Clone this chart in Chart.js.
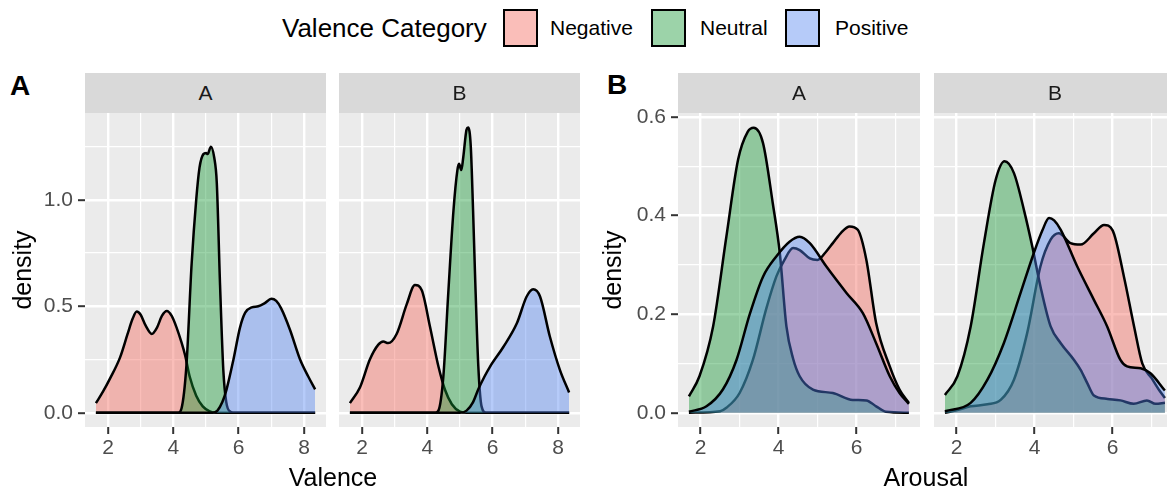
<!DOCTYPE html>
<html lang="en">
<head>
<meta charset="UTF-8">
<title>Valence and arousal densities</title>
<script src="https://cdn.jsdelivr.net/npm/chart.js@4.4.1/dist/chart.umd.min.js"></script>
<style>
  body { margin: 0; background: #fff; overflow: hidden; }
  #fig { position: relative; width: 1167px; height: 488px; overflow: hidden;
         font-family: 'Liberation Sans', Arial, sans-serif; color: #000; }
  #fig canvas { position: absolute; top: 73px; }
  .strip { position: absolute; top: 73px; height: 40px; line-height: 40px; background: #d9d9d9;
           text-align: center; font-size: 21px; color: #1a1a1a; z-index: 2; }
  .tag { position: absolute; font-weight: bold; font-size: 28px; line-height: 28px; }
  .xtitle { position: absolute; top: 465px; font-size: 25px; line-height: 25px; transform: translateX(-50%); white-space: nowrap; }
  .key { position: absolute; top: 9px; width: 35px; height: 38px; box-sizing: border-box; border: 2px solid #000; }
  .ltext { position: absolute; top: 14px; line-height: 28px; font-size: 21px; white-space: nowrap; }
</style>
</head>
<body>
<div id="fig">
  <div class="ltext" style="left:282px;font-size:26px;">Valence Category</div>
  <div class="key" id="key0" style="left:503px;"></div>
  <div class="ltext" style="left:550px;">Negative</div>
  <div class="key" id="key1" style="left:651px;"></div>
  <div class="ltext" style="left:700px;">Neutral</div>
  <div class="key" id="key2" style="left:785px;"></div>
  <div class="ltext" style="left:835px;">Positive</div>

  <div class="tag" style="left:10px;top:72px;">A</div>
  <div class="tag" style="left:607px;top:71px;">B</div>

  <div class="strip" style="left:85px;width:241px;">A</div>
  <div class="strip" style="left:339px;width:241px;">B</div>
  <div class="strip" style="left:678px;width:242px;">A</div>
  <div class="strip" style="left:934px;width:242px;">B</div>

  <canvas id="valA" width="330" height="415" style="left:0px"></canvas>
  <canvas id="valB" width="241" height="415" style="left:339px"></canvas>
  <canvas id="aroA" width="335" height="415" style="left:590px"></canvas>
  <canvas id="aroB" width="242" height="415" style="left:934px"></canvas>

  <div class="xtitle" style="left:333px;">Valence</div>
  <div class="xtitle" style="left:926px;">Arousal</div>
</div>
<script>
// categories and colours
const categories = ['Negative', 'Neutral', 'Positive'];
const fills = ['rgba(245,110,100,0.45)', 'rgba(20,150,50,0.42)', 'rgba(80,130,240,0.42)'];

// axis ticks
const valenceMajor = [2, 4, 6, 8];
const valenceMinor = [3, 5, 7];
const arousalMajor = [2, 4, 6];
const arousalMinor = [3, 5, 7];
const densValMajor = [0, 0.5, 1.0];
const densValMinor = [0.25, 0.75, 1.25];
const densAroMajor = [0, 0.2, 0.4, 0.6];
const densAroMinor = [0.1, 0.3, 0.5];

// Valence, facet A  [x, density]
const valA_neg = [[1.63,0.045],[1.85,0.1],[2.06,0.16],[2.37,0.26],[2.6,0.37],[2.75,0.44],[2.88,0.475],[3.0,0.46],[3.15,0.41],[3.34,0.37],[3.5,0.4],[3.65,0.455],[3.8,0.478],[3.95,0.455],[4.1,0.4],[4.25,0.33],[4.36,0.27],[4.5,0.17],[4.7,0.08],[4.9,0.03],[5.1,0.008],[5.3,0],[8.34,0]];
const valA_neu = [[1.63,0],[4.15,0],[4.25,0.02],[4.4,0.22],[4.56,0.7],[4.7,1.0],[4.8,1.15],[4.92,1.215],[5.0,1.22],[5.05,1.215],[5.15,1.25],[5.25,1.2],[5.33,1.08],[5.43,0.6],[5.53,0.2],[5.62,0.05],[5.75,0.005],[5.9,0],[8.34,0]];
const valA_pos = [[1.63,0],[5.2,0],[5.35,0.01],[5.5,0.05],[5.63,0.11],[5.84,0.25],[6.04,0.4],[6.2,0.47],[6.4,0.495],[6.6,0.5],[6.8,0.515],[7.0,0.535],[7.15,0.525],[7.3,0.49],[7.57,0.39],[7.88,0.25],[8.13,0.17],[8.34,0.11]];

// Valence, facet B
const valB_neg = [[1.63,0.045],[1.94,0.12],[2.24,0.25],[2.5,0.32],[2.65,0.335],[2.8,0.327],[3.06,0.37],[3.37,0.51],[3.62,0.6],[3.83,0.575],[4.08,0.405],[4.34,0.217],[4.54,0.108],[4.75,0.04],[5.0,0.005],[5.2,0],[8.34,0]];
const valB_neu = [[1.63,0],[4.25,0],[4.34,0.01],[4.49,0.17],[4.64,0.56],[4.8,0.95],[4.92,1.14],[4.97,1.17],[5.04,1.14],[5.1,1.2],[5.2,1.33],[5.25,1.34],[5.33,1.25],[5.4,0.95],[5.46,0.65],[5.56,0.22],[5.66,0.03],[5.8,0],[8.34,0]];
const valB_pos = [[1.63,0],[5.0,0],[5.2,0.01],[5.4,0.05],[5.56,0.11],[5.75,0.17],[5.92,0.217],[6.33,0.31],[6.74,0.42],[7.04,0.546],[7.24,0.58],[7.45,0.546],[7.75,0.358],[8.06,0.2],[8.34,0.095]];

// Arousal, facet A
const aroA_neg = [[1.7,0],[2.5,0.003],[2.66,0.01],[3.0,0.04],[3.34,0.107],[3.68,0.21],[3.94,0.276],[4.15,0.31],[4.37,0.334],[4.54,0.33],[4.8,0.313],[5.0,0.31],[5.2,0.325],[5.39,0.344],[5.6,0.365],[5.82,0.378],[6.03,0.371],[6.25,0.31],[6.5,0.182],[6.85,0.094],[7.1,0.047],[7.34,0.02]];
const aroA_neu = [[1.7,0.033],[1.97,0.074],[2.32,0.175],[2.66,0.357],[2.96,0.513],[3.21,0.57],[3.36,0.578],[3.6,0.547],[3.85,0.425],[4.03,0.324],[4.2,0.175],[4.37,0.11],[4.54,0.074],[4.88,0.047],[5.39,0.04],[5.9,0.026],[6.25,0.025],[6.5,0.013],[6.75,0.002],[7.34,0]];
const aroA_pos = [[1.7,0.002],[2.15,0.013],[2.57,0.047],[2.92,0.107],[3.26,0.2],[3.6,0.276],[3.94,0.317],[4.28,0.347],[4.54,0.357],[4.8,0.344],[5.22,0.297],[5.74,0.243],[6.16,0.202],[6.5,0.141],[6.85,0.074],[7.1,0.04],[7.34,0.018]];

// Arousal, facet B
const aroB_neg = [[1.7,0],[2.0,0.005],[2.36,0.013],[2.79,0.017],[3.13,0.026],[3.47,0.067],[3.81,0.162],[4.15,0.297],[4.41,0.351],[4.62,0.364],[4.92,0.344],[5.18,0.341],[5.52,0.364],[5.78,0.381],[6.0,0.37],[6.29,0.276],[6.55,0.175],[6.76,0.1],[7.0,0.07],[7.2,0.045],[7.34,0.03]];
const aroB_neu = [[1.7,0.036],[2.02,0.074],[2.36,0.175],[2.7,0.344],[3.0,0.472],[3.23,0.51],[3.47,0.486],[3.73,0.41],[3.94,0.337],[4.15,0.256],[4.41,0.175],[4.67,0.141],[5.01,0.107],[5.18,0.087],[5.35,0.06],[5.52,0.035],[5.87,0.028],[6.2,0.025],[6.54,0.018],[6.88,0.025],[7.1,0.018],[7.34,0.02]];
const aroB_pos = [[1.7,0.003],[2.36,0.02],[2.79,0.067],[3.21,0.141],[3.64,0.243],[3.98,0.324],[4.2,0.37],[4.37,0.395],[4.5,0.39],[4.67,0.371],[5.09,0.297],[5.52,0.229],[5.86,0.175],[6.2,0.107],[6.37,0.094],[6.72,0.09],[6.97,0.08],[7.34,0.045]];

const FONT = "'Liberation Sans', Arial, sans-serif";

fills.forEach((c, i) => { document.getElementById('key' + i).style.background = c; });

function isIn(v, arr) {
  return arr.some(a => Math.abs(a - v) < 1e-9);
}

// grey panel behind the plot
const panelBg = {
  id: 'panelBg',
  beforeDraw(chart) {
    const a = chart.chartArea;
    const ctx = chart.ctx;
    ctx.save();
    ctx.fillStyle = '#ebebeb';
    ctx.fillRect(a.left, a.top, a.right - a.left, a.bottom - a.top);
    ctx.restore();
  }
};

function axis(major, minor, min, max, decimals, showLabels, size, horizontal) {
  return {
    type: 'linear',
    min: min,
    max: max,
    border: { display: false },
    afterBuildTicks: s => {
      s.ticks = major.concat(minor).sort((a, b) => a - b).map(v => ({ value: v }));
    },
    afterFit: s => {
      if (horizontal) s.height = size; else s.width = size;
    },
    grid: {
      color: '#ffffff',
      lineWidth: c => (c.tick && isIn(c.tick.value, major)) ? 2.4 : 1.2,
      drawTicks: showLabels,
      tickLength: 7,
      tickWidth: 2,
      tickColor: c => (c.tick && isIn(c.tick.value, major)) ? '#333333' : 'rgba(0,0,0,0)'
    },
    ticks: {
      display: showLabels,
      autoSkip: false,
      maxRotation: 0,
      padding: horizontal ? 2 : 5,
      color: '#4d4d4d',
      font: { family: FONT, size: 21 },
      callback: v => isIn(v, major) ? v.toFixed(decimals) : ''
    }
  };
}

function makeChart(id, series, x, y, showY, yWidth, padRight) {
  const yScale = axis(y.major, y.minor, y.min, y.max, 1, showY, showY ? yWidth : 0, false);
  yScale.title = {
    display: showY,
    text: 'density',
    color: '#000',
    font: { family: FONT, size: 25 },
    padding: { top: 9, bottom: 0 }
  };
  new Chart(document.getElementById(id), {
    type: 'line',
    data: {
      datasets: series.map((pts, i) => ({
        label: categories[i],
        data: pts.map(p => ({ x: p[0], y: p[1] })),
        borderColor: '#000',
        borderWidth: 2.5,
        backgroundColor: fills[i],
        fill: 'origin',
        pointRadius: 0,
        cubicInterpolationMode: 'monotone',
        order: 2 - i
      }))
    },
    options: {
      responsive: false,
      animation: false,
      layout: { padding: { top: 40, right: padRight, left: 0, bottom: 0 } },
      plugins: { legend: { display: false }, tooltip: { enabled: false } },
      scales: {
        x: axis(x.major, x.minor, x.min, x.max, 0, true, 61, true),
        y: yScale
      }
    },
    plugins: [panelBg]
  });
}

const valX = { major: valenceMajor, minor: valenceMinor, min: 1.296, max: 8.673 };
const valY = { major: densValMajor, minor: densValMinor, min: -0.067, max: 1.408 };
const aroX = { major: arousalMajor, minor: arousalMinor, min: 1.42, max: 7.625 };
const aroY = { major: densAroMajor, minor: densAroMinor, min: -0.029, max: 0.608 };

makeChart('valA', [valA_neg, valA_neu, valA_pos], valX, valY, true, 85, 4);
makeChart('valB', [valB_neg, valB_neu, valB_pos], valX, valY, false, 0, 0);
makeChart('aroA', [aroA_neg, aroA_neu, aroA_pos], aroX, aroY, true, 88, 5);
makeChart('aroB', [aroB_neg, aroB_neu, aroB_pos], aroX, aroY, false, 0, 0);
</script>
</body>
</html>
